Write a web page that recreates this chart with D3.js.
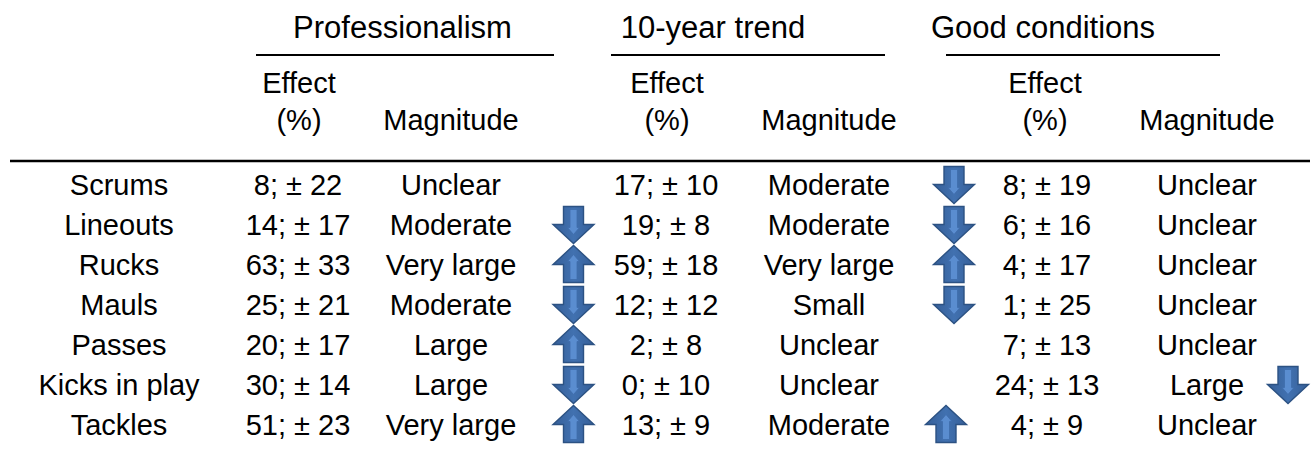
<!DOCTYPE html>
<html><head><meta charset="utf-8">
<script src="https://cdn.jsdelivr.net/npm/d3@7"></script>
<style>
html,body{margin:0;padding:0;background:#fff;}
svg text{font-family:"Liberation Sans",Arial,sans-serif;fill:#000;}
</style></head>
<body><svg id="chart" width="1313" height="452"></svg>
<script>
// ---- data ----
const rows = ["Scrums","Lineouts","Rucks","Mauls","Passes","Kicks in play","Tackles"];
const groups = ["Professionalism","10-year trend","Good conditions"];
const profEffect = [8,14,63,25,20,30,51];
const profCI = [22,17,33,21,17,14,23];
const profMag = ["Unclear","Moderate","Very large","Moderate","Large","Large","Very large"];
const trendEffect = [17,19,59,12,2,0,13];
const trendCI = [10,8,18,12,8,10,9];
const trendMag = ["Moderate","Moderate","Very large","Small","Unclear","Unclear","Moderate"];
const goodEffect = [8,6,4,1,7,24,4];
const goodCI = [19,16,17,25,13,13,9];
const goodMag = ["Unclear","Unclear","Unclear","Unclear","Unclear","Large","Unclear"];
const profArrow = [null,"down","up","down","up","down","up"];
const trendArrow = ["down","down","up","down",null,null,"up"];
const goodArrow = [null,null,null,null,null,"down",null];

// ---- layout ----
const svg = d3.select("#chart");
const FS = 29, TFS = 31;
const y = d3.scaleBand().domain(rows).range([165, 445]);
const rowX = 119;
const cols = [
  {eff: profEffect, ci: profCI, mag: profMag, arr: profArrow, effX: 298, magX: 451, arrX: 573.5,
   title: groups[0], titleX: 402.5, line: [256, 554], hdrEffX: 299},
  {eff: trendEffect, ci: trendCI, mag: trendMag, arr: trendArrow, effX: 666, magX: 829, arrX: 954,
   title: groups[1], titleX: 713, line: [611, 885], hdrEffX: 667},
  {eff: goodEffect, ci: goodCI, mag: goodMag, arr: goodArrow, effX: 1047, magX: 1207, arrX: 1288,
   title: groups[2], titleX: 1043, line: [946, 1220], hdrEffX: 1045}
];

function txt(g, x, yy, s, fs) {
  return g.append("text").attr("x", x).attr("y", yy).attr("text-anchor", "middle")
    .attr("font-size", fs || FS).text(s);
}

// header
cols.forEach(c => {
  txt(svg, c.titleX, 38, c.title, TFS);
  svg.append("line").attr("x1", c.line[0]).attr("x2", c.line[1]).attr("y1", 55).attr("y2", 55)
    .attr("stroke", "#000").attr("stroke-width", 1.8);
  txt(svg, c.hdrEffX, 93, "Effect");
  txt(svg, c.hdrEffX, 130, "(%)");
  txt(svg, c.magX, 130, "Magnitude");
});
svg.append("line").attr("x1", 10).attr("x2", 1310).attr("y1", 161).attr("y2", 161)
  .attr("stroke", "#000").attr("stroke-width", 2.6);

// arrows
const defs = svg.append("defs");
const grad = defs.append("linearGradient").attr("id", "ag").attr("x1", 0).attr("x2", 1).attr("y1", 0).attr("y2", 0);
grad.append("stop").attr("offset", "0%").attr("stop-color", "#365f98");
grad.append("stop").attr("offset", "50%").attr("stop-color", "#4171b0");
grad.append("stop").attr("offset", "100%").attr("stop-color", "#365f98");

function arrow(g, cx, cy, dir) {
  const w = 41, h = 37, sw = 20, headH = 19;
  const top = -h / 2, bot = h / 2, hy = bot - headH;
  const p = `M${-sw/2},${top} L${sw/2},${top} L${sw/2},${hy} L${w/2},${hy} L0,${bot} L${-w/2},${hy} L${-sw/2},${hy} Z`;
  const inner = `M${-3.5},${top+3} L${3.5},${top+3} L${3.5},${hy+3} L${6},${hy+3} L0,${bot-9} L${-6},${hy+3} L${-3.5},${hy+3} Z`;
  const a = g.append("g").attr("transform", `translate(${cx},${cy})` + (dir === "up" ? " rotate(180)" : ""));
  a.append("path").attr("d", p).attr("fill", "url(#ag)").attr("stroke", "#2c5283").attr("stroke-width", 1.4);
  a.append("path").attr("d", inner).attr("fill", "#5a8dd0").attr("stroke", "#3f6cab").attr("stroke-width", 0.8);
}

// body
const body = svg.append("g");
rows.forEach((r, i) => {
  const cy = y(r) + y.bandwidth() / 2;
  txt(body, rowX, cy + 10, r);
  cols.forEach(c => {
    txt(body, c.effX, cy + 10, `${c.eff[i]}; \u00B1 ${c.ci[i]}`);
    txt(body, c.magX, cy + 10, c.mag[i]);
    if (c.arr[i]) arrow(body, c.arrX - (i === 6 && c === cols[1] ? 8 : 0), cy + (c.arr[i] === "up" ? -1 : 0), c.arr[i]);
  });
});
</script></body></html>
